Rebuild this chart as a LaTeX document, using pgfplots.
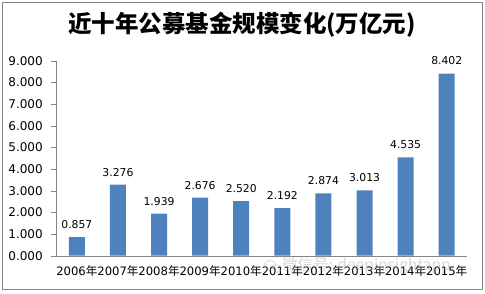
\documentclass[border=0pt]{standalone}
\usepackage{pgfplots}
\pgfplotsset{compat=1.18}
\usepackage{fontspec}
\setmainfont{DejaVu Sans}
\newfontfamily\cjk{Noto Sans CJK SC}
\definecolor{barblue}{HTML}{4F81BD}
\definecolor{axgray}{HTML}{868686}
\begin{document}
\begin{tikzpicture}
\begin{axis}[
  anchor=origin, at={(0pt,0pt)},
  scale only axis, width=411pt, height=195pt,
  xmin=-0.5, xmax=9.5, ymin=0, ymax=9,
  axis x line*=bottom, axis y line*=left,
  axis line style={axgray},
  every tick/.style={axgray},
  tick align=outside,
  ytick distance=1,
  major tick length=5pt,
  xtick={0,...,9},
  x tick style={draw=none},
  minor xtick={-0.5,0.5,...,9.5},
  minor x tick style={axgray},
  minor tick length=5pt,
  xticklabels={2006{\cjk 年},2007{\cjk 年},2008{\cjk 年},2009{\cjk 年},2010{\cjk 年},2011{\cjk 年},2012{\cjk 年},2013{\cjk 年},2014{\cjk 年},2015{\cjk 年}},
  xticklabel style={font=\fontsize{11.6}{12}\selectfont, inner xsep=0pt, yshift=-1pt},
  yticklabel style={font=\fontsize{12}{12}\selectfont, xshift=-5pt},
  /pgf/number format/assume math mode=true,
  yticklabel={\pgfmathprintnumber[fixed,fixed zerofill,precision=3]{\tick}},
  ybar, bar width=16pt,
  nodes near coords={\pgfmathprintnumber[fixed,fixed zerofill,precision=3,assume math mode=true]{\pgfplotspointmeta}},
  every node near coord/.append style={font=\fontsize{10.8}{12}\selectfont, yshift=5pt},
  clip=false,
]
\addplot[fill=barblue, draw=none] coordinates {
(0,0.857) (1,3.276) (2,1.939) (3,2.676) (4,2.520) (5,2.192) (6,2.874) (7,3.013) (8,4.535) (9,8.402)};
\coordinate (O) at (axis cs:-0.5,0);
\end{axis}
\begin{scope}[shift={(O)}, x=1pt, y=1pt, shift={(-56.3,-37.3)}]
\draw[axgray,line width=0.9pt] (2.5,3.5) rectangle (482.5,290.5);
\node[font=\cjk\bfseries\fontsize{23.5}{26}\selectfont] at (242,268) {近十年公募基金规模变化(万亿元)};
\begin{scope}[opacity=0.45, draw=gray!70, line width=0.7pt]
\draw (270,28) ellipse (5.5 and 4.5);
\draw (277,24.5) ellipse (4.5 and 3.8);
\end{scope}
\node[anchor=west, text=gray!70, opacity=0.45, font=\cjk\fontsize{15.5}{16}\selectfont, inner sep=0pt] at (282,27) {微信号: deepinsightapp};
\pgfresetboundingbox
\path[use as bounding box] (0,0) rectangle (485,293);
\end{scope}
\end{tikzpicture}
\end{document}
